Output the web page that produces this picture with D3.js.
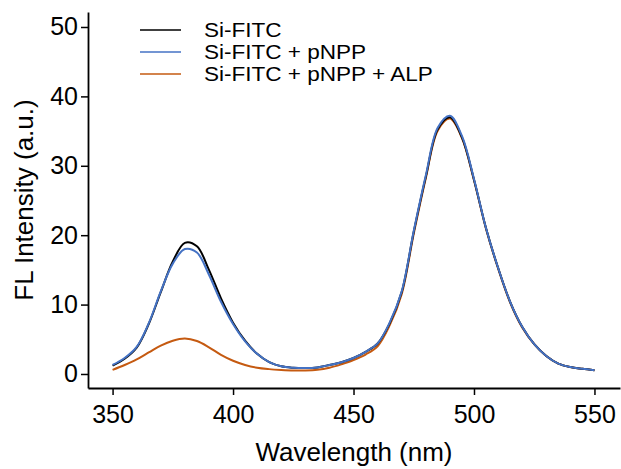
<!DOCTYPE html>
<html>
<head>
<meta charset="utf-8">
<script src="https://d3js.org/d3.v7.min.js"></script>
<style>
  body { margin: 0; background: #fff; }
  text { font-family: "Liberation Sans", Arial, sans-serif; }
</style>
</head>
<body>
<div id="chart"></div>
<script>
// wavelengths (nm), 5 nm steps
const wavelengths = [350, 355, 360, 365, 370, 375, 380, 385, 390, 395, 400, 405, 410, 415, 420, 425,
  430, 435, 440, 445, 450, 455, 460, 465, 470, 475, 480, 485, 490, 495, 500, 505, 510, 515, 520,
  525, 530, 535, 540, 545, 550];

const siFitc = [1.2, 2.2, 3.8, 7.2, 11.8, 16.2, 18.9, 18.4, 15.0, 10.9, 7.4, 4.8, 2.9, 1.7, 1.1, 0.9,
  0.85, 0.95, 1.3, 1.7, 2.3, 3.2, 4.4, 7.3, 11.8, 20.5, 28.4, 35.3, 37.0, 34.1, 28.0, 21.0, 15.3, 10.4, 6.8,
  4.3, 2.6, 1.5, 1.0, 0.75, 0.55];
const siFitcPnpp = [1.3, 2.3, 3.9, 7.3, 11.9, 15.9, 18.0, 17.5, 14.3, 10.4, 7.2, 4.7, 2.9, 1.7, 1.1, 0.9,
  0.85, 0.95, 1.3, 1.7, 2.3, 3.2, 4.4, 7.4, 11.9, 20.6, 28.6, 35.5, 37.2, 34.3, 28.1, 21.0, 15.3, 10.4, 6.8,
  4.3, 2.6, 1.5, 1.0, 0.75, 0.55];
const siFitcPnppAlp = [0.6, 1.3, 2.1, 3.1, 4.1, 4.8, 5.1, 4.75, 3.85, 2.75, 1.9, 1.3, 0.9, 0.7, 0.58, 0.5,
  0.5, 0.6, 0.9, 1.4, 2.0, 2.8, 4.0, 7.0, 11.5, 20.2, 28.2, 35.1, 36.8, 34.0, 27.9, 20.9, 15.2, 10.3, 6.7,
  4.3, 2.6, 1.5, 1.0, 0.75, 0.55];

const seriesNames = ["Si-FITC", "Si-FITC + pNPP", "Si-FITC + pNPP + ALP"];
const seriesValues = [siFitc, siFitcPnpp, siFitcPnppAlp];
const colors = ["#000000", "#4472c4", "#c55a11"];

const xTicks = [350, 400, 450, 500, 550];
const yTicks = [0, 10, 20, 30, 40, 50];

const width = 621;
const height = 469;

const x = d3.scaleLinear().domain([339.8, 560.6]).range([88, 620]);
const y = d3.scaleLinear().domain([-2.02, 52.16]).range([388, 12]);

const svg = d3.select("#chart").append("svg")
    .attr("width", width)
    .attr("height", height);

// axes
const xAxis = svg.append("g")
    .attr("transform", `translate(0,${y.range()[0]})`)
    .call(d3.axisBottom(x).tickValues(xTicks).tickSize(7).tickSizeOuter(0).tickPadding(10));

const yAxis = svg.append("g")
    .attr("transform", `translate(${x.range()[0]},0)`)
    .call(d3.axisLeft(y).tickValues(yTicks).tickSize(7).tickSizeOuter(0).tickPadding(3));

[xAxis, yAxis].forEach(ax => {
  ax.select(".domain").attr("stroke", "#000").attr("stroke-width", 1.8);
  ax.selectAll(".tick line").attr("stroke", "#000").attr("stroke-width", 1.5);
  ax.selectAll(".tick text")
      .attr("fill", "#000")
      .style("font-size", "25px")
      .style("font-family", "'Liberation Sans', Arial, sans-serif");
});

// axis titles
svg.append("text")
    .attr("x", 354)
    .attr("y", 461)
    .attr("text-anchor", "middle")
    .style("font-size", "26px")
    .text("Wavelength (nm)");

svg.append("text")
    .attr("transform", "translate(33,200) rotate(-90)")
    .attr("text-anchor", "middle")
    .style("font-size", "26px")
    .text("FL Intensity (a.u.)");

// curves
const line = d3.line()
    .x(d => x(d[0]))
    .y(d => y(d[1]))
    .curve(d3.curveCatmullRom.alpha(0.5));

// orange first, then black, blue on top
[2, 0, 1].forEach(i => {
  svg.append("path")
      .datum(wavelengths.map((w, j) => [w, seriesValues[i][j]]))
      .attr("fill", "none")
      .attr("stroke", colors[i])
      .attr("stroke-width", 2)
      .attr("d", line);
});

// legend (text slightly widened like the original)
const legend = svg.append("g");
seriesNames.forEach((name, i) => {
  const ly = 30 + i * 22;
  legend.append("line")
      .attr("x1", 140).attr("x2", 181)
      .attr("y1", ly).attr("y2", ly)
      .attr("stroke", colors[i])
      .attr("stroke-width", 1.6);
  legend.append("text")
      .attr("transform", `translate(204,${ly + 7}) scale(1.1,1)`)
      .style("font-size", "20.5px")
      .text(name);
});
</script>
</body>
</html>
